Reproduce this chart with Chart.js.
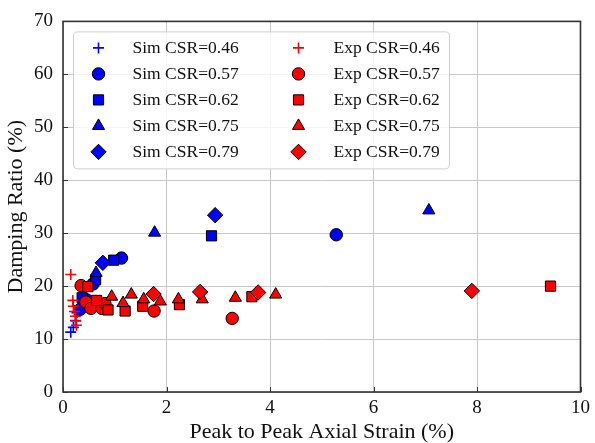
<!DOCTYPE html>
<html><head><meta charset="utf-8">
<script src="https://cdn.jsdelivr.net/npm/chart.js@4/dist/chart.umd.min.js"></script>
<style>html,body{margin:0;padding:0;background:#fff;}canvas{display:block;}</style>
</head><body>
<canvas id="c" width="595" height="443"></canvas>
<script>
// ---- tick labels ----
const xTicks = [0, 2, 4, 6, 8, 10];
const yTicks = [0, 10, 20, 30, 40, 50, 60, 70];

// ---- series (x = peak-to-peak axial strain %, y = damping ratio %) ----
const simX046 = [0.15, 0.20, 0.24, 0.27, 0.30];
const simY046 = [11.3, 12.2, 13.5, 15.0, 16.3];
const simX057 = [0.33, 0.46, 0.58, 1.13, 5.28];
const simY057 = [15.6, 17.4, 20.4, 25.3, 29.7];
const simX062 = [0.37, 0.63, 0.98, 2.87];
const simY062 = [17.8, 21.2, 24.9, 29.5];
const simX075 = [0.64, 1.77, 7.07];
const simY075 = [22.5, 30.1, 34.3];
const simX079 = [0.77, 2.94];
const simY079 = [24.4, 33.4];

const expX046 = [0.15, 0.19, 0.20, 0.22, 0.24, 0.25, 0.26];
const expY046 = [22.2, 17.3, 16.2, 15.2, 14.3, 13.4, 12.6];
const expX057 = [0.35, 0.44, 0.54, 0.75, 0.81, 1.76, 3.27];
const expY057 = [20.1, 17.0, 15.8, 15.8, 16.7, 15.3, 13.9];
const expX062 = [0.48, 0.65, 0.87, 1.20, 1.54, 2.25, 3.65, 9.42];
const expY062 = [19.9, 17.3, 15.5, 15.3, 16.2, 16.5, 18.0, 20.0];
const expX075 = [0.94, 1.16, 1.32, 1.56, 1.88, 2.23, 2.69, 3.33, 4.11];
const expY075 = [18.0, 16.8, 18.4, 17.5, 17.1, 17.5, 17.5, 17.8, 18.4];
const expX079 = [1.75, 2.65, 3.77, 7.90];
const expY079 = [18.5, 18.9, 18.8, 19.1];

const seriesLabels = ['Sim CSR=0.46','Sim CSR=0.57','Sim CSR=0.62','Sim CSR=0.75','Sim CSR=0.79',
                      'Exp CSR=0.46','Exp CSR=0.57','Exp CSR=0.62','Exp CSR=0.75','Exp CSR=0.79'];

const FONT = "'Liberation Serif', 'Times New Roman', serif";
Chart.defaults.font.family = FONT;
Chart.defaults.color = '#111';

const styles = [
  {ps:'cross', r:5.5}, {ps:'circle', r:6.2}, {ps:'rect', r:7.2}, {ps:'triangle', r:7}, {ps:'rectRot', r:7.7}
];
function pts(xs, ys){ return xs.map((x,i)=>({x:x, y:ys[i]})); }
const allData = [
  pts(simX046,simY046), pts(simX057,simY057), pts(simX062,simY062), pts(simX075,simY075), pts(simX079,simY079),
  pts(expX046,expY046), pts(expX057,expY057), pts(expX062,expY062), pts(expX075,expY075), pts(expX079,expY079)
];
const datasets = allData.map((d,i)=>{
  const col = i < 5 ? '#0000ff' : '#ff0000';
  const st = styles[i % 5];
  const isCross = st.ps === 'cross';
  return {
    label: seriesLabels[i],
    data: d,
    pointStyle: st.ps,
    pointRadius: st.r,
    pointHoverRadius: st.r,
    backgroundColor: col,
    borderColor: isCross ? col : '#000',
    pointBorderWidth: isCross ? 1.6 : 1,
    showLine: false,
    order: 20 - i
  };
});

// marker drawing for the legend (same geometry as Chart.js point styles)
function marker(ctx, style, r, x, y){
  ctx.beginPath();
  if (style === 'cross') {
    ctx.moveTo(x - r, y); ctx.lineTo(x + r, y);
    ctx.moveTo(x, y - r); ctx.lineTo(x, y + r);
    ctx.stroke();
    return;
  }
  if (style === 'circle') {
    ctx.arc(x, y, r, 0, Math.PI * 2);
  } else if (style === 'rect') {
    const s = Math.SQRT1_2 * r;
    ctx.rect(x - s, y - s, 2 * s, 2 * s);
  } else if (style === 'triangle') {
    let a = 0;
    ctx.moveTo(x + Math.sin(a) * r, y - Math.cos(a) * r);
    a += 2 * Math.PI / 3;
    ctx.lineTo(x + Math.sin(a) * r, y - Math.cos(a) * r);
    a += 2 * Math.PI / 3;
    ctx.lineTo(x + Math.sin(a) * r, y - Math.cos(a) * r);
  } else if (style === 'rectRot') {
    ctx.moveTo(x - r, y); ctx.lineTo(x, y - r); ctx.lineTo(x + r, y); ctx.lineTo(x, y + r);
  }
  ctx.closePath();
  ctx.fill();
  ctx.stroke();
}

const frame = {
  id: 'frame',
  afterDatasetsDraw(chart){
    const {ctx, chartArea:a, scales} = chart;
    ctx.save();
    ctx.strokeStyle = '#333';
    ctx.lineWidth = 1;
    ctx.beginPath();
    xTicks.forEach(v=>{ const x = Math.round(scales.x.getPixelForValue(v)) + 0.5; ctx.moveTo(x, a.bottom); ctx.lineTo(x, a.bottom - 5); });
    yTicks.forEach(v=>{ const y = Math.round(scales.y.getPixelForValue(v)) + 0.5; ctx.moveTo(a.left, y); ctx.lineTo(a.left + 5, y); });
    ctx.stroke();
    ctx.lineWidth = 1.6;
    ctx.strokeRect(a.left, a.top, a.right - a.left, a.bottom - a.top);
    ctx.restore();
  }
};

const legendBox = {
  id: 'legendBox',
  afterDraw(chart){
    const {ctx, chartArea:a} = chart;
    const bx = a.left + 10.5, by = a.top + 10.5, bw = 376, bh = 137;
    ctx.save();
    ctx.beginPath();
    ctx.roundRect(bx, by, bw, bh, 4);
    ctx.fillStyle = 'rgba(255,255,255,0.8)';
    ctx.fill();
    ctx.strokeStyle = '#d0d0d0';
    ctx.lineWidth = 1;
    ctx.stroke();
    ctx.font = '17.5px ' + FONT;
    ctx.textBaseline = 'middle';
    ctx.textAlign = 'left';
    datasets.forEach((ds,i)=>{
      const col = Math.floor(i/5), row = i % 5;
      const mx = bx + 25 + col*200, tx = bx + 59 + col*201;
      const y = by + 16 + row*26;
      ctx.fillStyle = ds.backgroundColor;
      ctx.strokeStyle = ds.borderColor;
      ctx.lineWidth = ds.pointBorderWidth;
      marker(ctx, ds.pointStyle, ds.pointRadius, mx, y);
      ctx.fillStyle = '#111';
      ctx.fillText(ds.label, tx, y + 1);
    });
    ctx.restore();
  }
};

new Chart(document.getElementById('c'), {
  type: 'scatter',
  data: { datasets },
  plugins: [frame, legendBox],
  options: {
    responsive: false,
    animation: false,
    devicePixelRatio: 1,
    layout: { padding: { top: 15, right: 12, left: 0, bottom: 0 } },
    plugins: { legend: { display: false }, tooltip: { enabled: false } },
    scales: {
      x: {
        type: 'linear', min: 0, max: 10,
        afterBuildTicks: s => { s.ticks = xTicks.map(v=>({value:v})); },
        afterFit: s => { s.height = 51; },
        ticks: { font: { size: 19 }, padding: 5, color: '#111' },
        grid: { color: '#c8c8c8', lineWidth: 1, drawTicks: false },
        border: { display: false },
        title: { display: true, text: 'Peak to Peak Axial Strain (%)', font: { size: 22, lineHeight: 1 }, color: '#111', padding: { top: 0, bottom: 0 } }
      },
      y: {
        type: 'linear', min: 0, max: 70,
        afterBuildTicks: s => { s.ticks = yTicks.map(v=>({value:v})); },
        afterFit: s => { s.width = 63; },
        ticks: { font: { size: 19 }, padding: 10, color: '#111' },
        grid: { color: '#c8c8c8', lineWidth: 1, drawTicks: false },
        border: { display: false },
        title: { display: true, text: 'Damping Ratio (%)', font: { size: 22, lineHeight: 1 }, color: '#111', padding: { top: 5, bottom: 0 } }
      }
    }
  }
});
</script>
</body></html>
